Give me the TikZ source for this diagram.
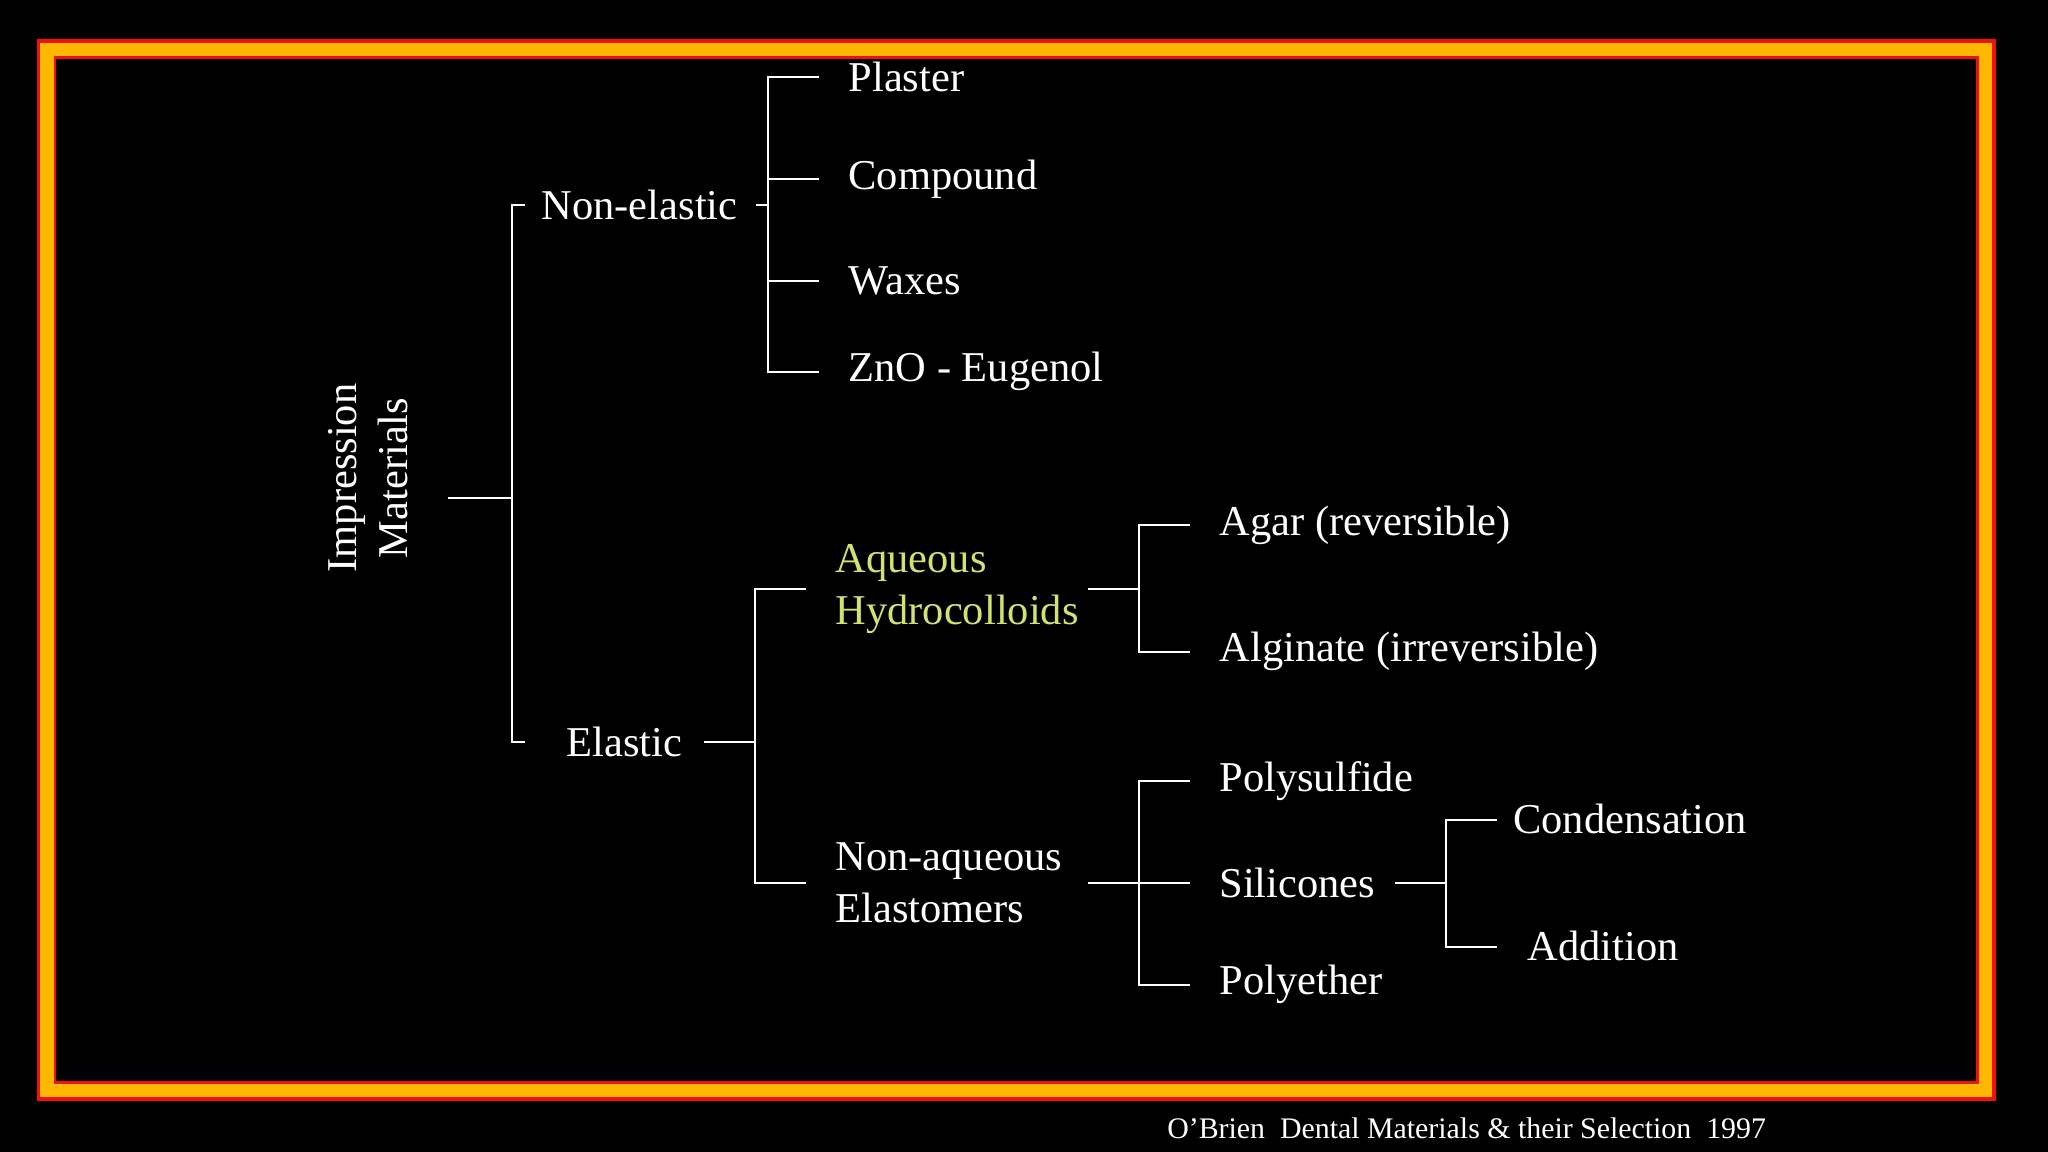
\documentclass[tikz,border=0pt]{standalone}
\usepackage{fontspec}
\setmainfont{Liberation Serif}
\definecolor{gold}{HTML}{FFB800}
\definecolor{bred}{HTML}{F01010}
\definecolor{lime}{HTML}{CFE470}
\begin{document}
\begin{tikzpicture}[x=0.01cm,y=-0.01cm,
  lab/.style={anchor=west,inner sep=0pt,text=white,font=\fontsize{9.25}{11}\selectfont,align=left},
  ln/.style={draw=white,line width=0.45pt}]
\useasboundingbox (0,0) rectangle (1568,882);
\fill[black] (0,0) rectangle (1568,882);
\fill[bred] (28,30) rectangle (1528,843);
\fill[gold] (31,33) rectangle (1525,840);
\fill[bred] (41,43) rectangle (1515,830);
\fill[black] (43,45) rectangle (1513,828);
% nodes
\node[lab,rotate=90,align=center,anchor=center,font=\fontsize{9.25}{11.2}\selectfont] (im) at (282,366) {Impression\\Materials};
\node[lab] (ne) at (414,157) {Non-elastic};
\node[lab] (pl) at (649,59) {Plaster};
\node[lab] (co) at (649,137) {Compound};
\node[lab] (wa) at (649,215) {Waxes};
\node[lab] (zn) at (649,284) {ZnO - Eugenol};
\node[lab] (el) at (433,568) {Elastic};
\node[lab,text=lime,font=\fontsize{9.25}{11.2}\selectfont] (aq) at (639,451) {Aqueous\\Hydrocolloids};
\node[lab,font=\fontsize{9.25}{11.2}\selectfont] (na) at (639,676) {Non-aqueous\\Elastomers};
\node[lab] (ag) at (933,402) {Agar (reversible)};
\node[lab] (al) at (933,499) {Alginate (irreversible)};
\node[lab] (ps) at (933,598) {Polysulfide};
\node[lab] (si) at (933,676) {Silicones};
\node[lab] (pe) at (933,754) {Polyether};
\node[lab] (cn) at (1158,627) {Condensation};
\node[lab] (ad) at (1169,724) {Addition};
\node[lab,font=\fontsize{6.5}{7}\selectfont] (ft) at (893,864) {O’Brien\ \ Dental Materials \& their Selection\ \ 1997};
% connectors
\coordinate (r0) at (343,381);
\draw[ln] (r0) -- (392,381);
\draw[ln] (402,157) -- (392,157) -- (392,568) -- (402,568);
\draw[ln] (579,157) -- (588,157);
\draw[ln] (627,59) -- (588,59) -- (588,285) -- (627,285);
\draw[ln] (588,137) -- (627,137) (588,215) -- (627,215);
\draw[ln] (539,568) -- (578,568);
\draw[ln] (617,451) -- (578,451) -- (578,676) -- (617,676);
\draw[ln] (833,451) -- (872,451);
\draw[ln] (911,402) -- (872,402) -- (872,499) -- (911,499);
\draw[ln] (833,676) -- (911,676);
\draw[ln] (911,598) -- (872,598) -- (872,754) -- (911,754);
\draw[ln] (1068,676) -- (1107,676);
\draw[ln] (1146,628) -- (1107,628) -- (1107,725) -- (1146,725);
\end{tikzpicture}
\end{document}
